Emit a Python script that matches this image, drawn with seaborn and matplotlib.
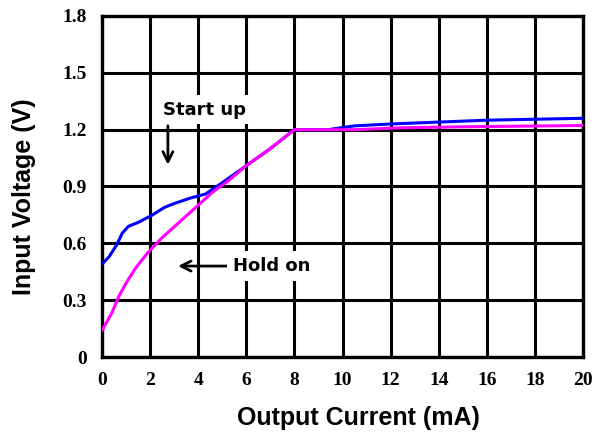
import matplotlib
matplotlib.use("Agg")
import matplotlib.pyplot as plt
import seaborn as sns

# values
start_x = [0, 0.3, 0.6, 0.85, 1.1, 1.5, 2.1, 2.6, 3.0, 3.7, 4.3, 5.0, 6.0, 7.0, 8.0,
           9.4, 10.5, 12, 14, 16, 18, 20]
start_v = [0.49, 0.53, 0.59, 0.655, 0.69, 0.71, 0.75, 0.79, 0.81, 0.84, 0.86, 0.92, 1.01,
           1.10, 1.20, 1.20, 1.22, 1.23, 1.24, 1.25, 1.255, 1.26]

hold_x = [0, 0.4, 0.7, 1.0, 1.4, 1.9, 2.5, 3.2, 3.9, 4.6, 5.25, 6.0, 7.0, 8.0,
          10.5, 12.5, 15, 20]
hold_v = [0.14, 0.23, 0.32, 0.39, 0.47, 0.55, 0.63, 0.71, 0.79, 0.87, 0.93, 1.01,
          1.10, 1.20, 1.20, 1.21, 1.215, 1.222]

x_ticks = list(range(0, 21, 2))
y_ticks = [0, 0.3, 0.6, 0.9, 1.2, 1.5, 1.8]
y_tick_labels = ["0", "0.3", "0.6", "0.9", "1.2", "1.5", "1.8"]

sns.set_style("white")
plt.rcParams.update({"text.color": "black", "axes.labelcolor": "black",
                     "xtick.color": "black", "ytick.color": "black"})

fig = plt.figure(figsize=(5.98, 4.37), dpi=100)
ax = fig.add_axes([102 / 598, 1 - 357 / 437, 481 / 598, 341 / 437])

sns.lineplot(x=start_x, y=start_v, color="#0000ff", lw=2.2, ax=ax, zorder=3)
sns.lineplot(x=hold_x, y=hold_v, color="#ff00ff", lw=2.2, ax=ax, zorder=4)

ax.set_xlim(0, 20)
ax.set_ylim(0, 1.8)
ax.set_xticks(x_ticks)
ax.set_yticks(y_ticks)
ax.set_yticklabels(y_tick_labels)
ax.grid(True, color="black", lw=2.2)
ax.set_axisbelow(True)
for s in ax.spines.values():
    s.set_color("black")
    s.set_linewidth(2.4)

ax.tick_params(length=0, pad=11)
for lab in ax.get_xticklabels() + ax.get_yticklabels():
    lab.set_fontfamily("Liberation Serif")
    lab.set_fontweight("bold")
    lab.set_fontsize(14)

ax.set_xlabel("Output Current (mA)", fontfamily="Liberation Sans",
              fontweight="bold", fontsize=18)
ax.set_ylabel("Input Voltage (V)", fontfamily="Liberation Sans",
              fontweight="bold", fontsize=18)
ax.xaxis.set_label_coords(0.534, -0.144)
ax.yaxis.set_label_coords(-0.137, 0.469)

# annotations
box = dict(facecolor="white", edgecolor="none", pad=4)
ax.text(2.54, 1.305, "Start up", ha="left", va="center", fontsize=13,
        fontweight="bold", bbox=box, zorder=5)
ax.annotate("", xy=(2.74, 1.0), xytext=(2.74, 1.235),
            arrowprops=dict(arrowstyle="->", lw=2, color="black",
                            mutation_scale=18), zorder=5)
ax.annotate("Hold on", xy=(3.16, 0.48), xytext=(5.45, 0.48),
            ha="left", va="center", fontsize=13, fontweight="bold",
            bbox=box, zorder=5,
            arrowprops=dict(arrowstyle="->", lw=2, color="black",
                            mutation_scale=18, shrinkA=0, shrinkB=0))

fig.savefig("out.png", dpi=100)
